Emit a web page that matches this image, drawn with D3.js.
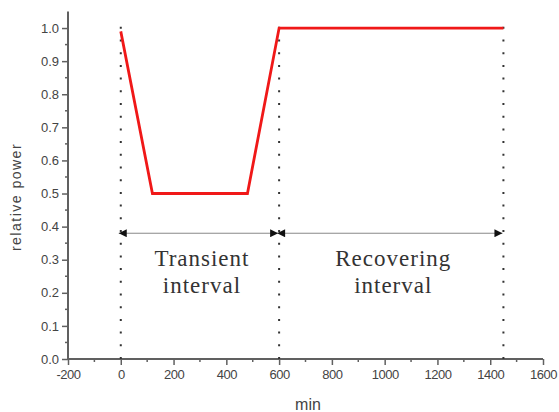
<!DOCTYPE html>
<html>
<head>
<meta charset="utf-8">
<script src="https://cdn.jsdelivr.net/npm/d3@7"></script>
<style>
  html, body { margin: 0; padding: 0; background: #fff; }
  svg { display: block; }
</style>
</head>
<body>
<svg id="chart" width="559" height="412"></svg>
<script>
// Power profile over time (minutes vs. relative power)
const timeMin = [0, 120, 480, 600, 1450];
const relPower = [0.99, 0.5, 0.5, 1.0, 1.0];

// Phase boundaries (dotted verticals) and interval annotations
const boundaries = [0, 600, 1450];
const intervals = [
  { from: 0, to: 600, lines: ["Transient", "interval"] },
  { from: 600, to: 1450, lines: ["Recovering", "interval"] }
];
const arrowLevel = 0.38;

const xTicks = [-200, 0, 200, 400, 600, 800, 1000, 1200, 1400, 1600];
const yTicks = [0.0, 0.1, 0.2, 0.3, 0.4, 0.5, 0.6, 0.7, 0.8, 0.9, 1.0];

const svg = d3.select("#chart");
const axisColor = "#606060";
const textColor = "#444";
const sans = "Arial, 'Liberation Sans', sans-serif";

const x = d3.scaleLinear().domain([-200, 1600]).range([68, 543]);
const y = d3.scaleLinear().domain([0, 1.05]).range([359, 11.5]);

// Defs: arrowheads
const defs = svg.append("defs");
defs.append("marker")
  .attr("id", "arrow")
  .attr("viewBox", "0 0 10 10")
  .attr("refX", 10).attr("refY", 5)
  .attr("markerWidth", 9).attr("markerHeight", 8)
  .attr("markerUnits", "userSpaceOnUse")
  .attr("orient", "auto-start-reverse")
  .append("path")
  .attr("d", "M0,0 L10,5 L0,10 Z")
  .attr("fill", "#111");

// Minor ticks
const xMinor = d3.range(-200, 1601, 100).filter(v => !xTicks.includes(v));
const yMinor = d3.range(0.05, 1.05, 0.1);

svg.append("g").selectAll("line").data(xMinor).join("line")
  .attr("x1", d => x(d)).attr("x2", d => x(d))
  .attr("y1", y(0)).attr("y2", y(0) + 3)
  .attr("stroke", axisColor).attr("stroke-width", 1.5);
svg.append("g").selectAll("line").data(yMinor).join("line")
  .attr("x1", x(-200) - 3).attr("x2", x(-200))
  .attr("y1", d => y(d)).attr("y2", d => y(d))
  .attr("stroke", axisColor).attr("stroke-width", 1.5);

// X axis
const xAxis = svg.append("g")
  .attr("transform", `translate(0,${y(0)})`)
  .call(d3.axisBottom(x).tickValues(xTicks).tickSizeInner(6).tickSizeOuter(0).tickPadding(5)
    .tickFormat(d => d));
xAxis.select(".domain").attr("stroke", axisColor).attr("stroke-width", 2)
  .attr("d", `M${x(-200)},0H${x(1600)}`);
xAxis.selectAll(".tick line").attr("stroke", axisColor).attr("stroke-width", 1.5);
xAxis.selectAll(".tick text")
  .attr("fill", textColor)
  .style("font-family", sans)
  .style("font-size", "13px")
  .style("letter-spacing", "-0.5px");

// Y axis
const yAxis = svg.append("g")
  .attr("transform", `translate(${x(-200)},0)`)
  .call(d3.axisLeft(y).tickValues(yTicks).tickSizeInner(6).tickSizeOuter(0).tickPadding(3)
    .tickFormat(d3.format(".1f")));
yAxis.select(".domain").attr("stroke", axisColor).attr("stroke-width", 2)
  .attr("d", `M0,${y(0)}V${y(1.05)}`);
yAxis.selectAll(".tick line").attr("stroke", axisColor).attr("stroke-width", 1.5);
yAxis.selectAll(".tick text")
  .attr("fill", textColor)
  .style("font-family", sans)
  .style("font-size", "13px");

// Axis titles
svg.append("text")
  .attr("x", 308).attr("y", 410)
  .attr("text-anchor", "middle")
  .attr("fill", textColor)
  .style("font-family", sans)
  .style("font-size", "16px")
  .text("min");
svg.append("text")
  .attr("transform", `translate(21,197) rotate(-90)`)
  .attr("text-anchor", "middle")
  .attr("fill", textColor)
  .style("font-family", sans)
  .style("font-size", "14px")
  .style("letter-spacing", "1.5px")
  .text("relative power");

// Dotted boundary lines
svg.append("g").selectAll("line").data(boundaries).join("line")
  .attr("x1", d => x(d)).attr("x2", d => x(d))
  .attr("y1", y(0)).attr("y2", y(1.02))
  .attr("stroke", "#333")
  .attr("stroke-width", 2)
  .attr("stroke-dasharray", "2,10.7");

// Interval arrows
svg.append("g").selectAll("line").data(intervals).join("line")
  .attr("x1", d => x(d.from) - 2).attr("x2", d => x(d.to) - 1)
  .attr("y1", y(arrowLevel)).attr("y2", y(arrowLevel))
  .attr("stroke", "#888").attr("stroke-width", 1)
  .attr("marker-start", "url(#arrow)")
  .attr("marker-end", "url(#arrow)");

// Interval labels
const lblGroups = svg.append("g").selectAll("g").data(intervals).join("g");
lblGroups.selectAll("text").data(d => d.lines.map(t => ({ t, d }))).join("text")
  .attr("x", o => (x(o.d.from) + x(o.d.to)) / 2 + 2)
  .attr("y", (o, i) => 266 + i * 27)
  .attr("text-anchor", "middle")
  .attr("fill", "#333")
  .style("font-family", "'Liberation Serif', 'Times New Roman', serif")
  .style("font-size", "23px")
  .style("letter-spacing", "1px")
  .text(o => o.t);

// Power line
const line = d3.line().x((d, i) => x(timeMin[i])).y(d => y(d));
svg.append("path")
  .datum(relPower)
  .attr("d", line)
  .attr("fill", "none")
  .attr("stroke", "#f01818")
  .attr("stroke-width", 2.8)
  .attr("stroke-linejoin", "miter");
</script>
</body>
</html>
